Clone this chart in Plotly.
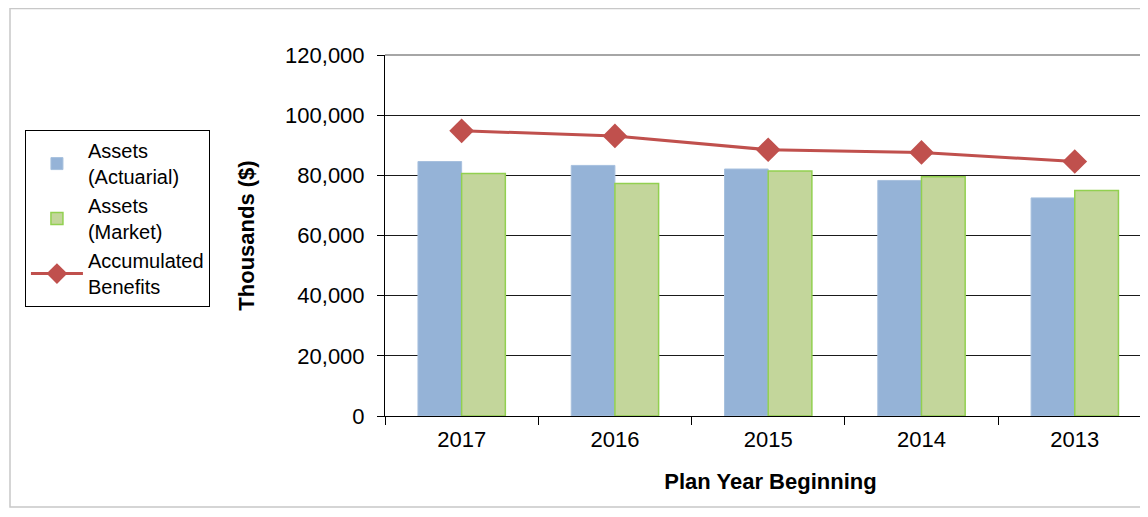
import plotly.graph_objects as go

years = ['2017', '2016', '2015', '2014', '2013']
assets_actuarial = [84600, 83300, 82100, 78300, 72500]
assets_market = [80600, 77300, 81400, 79500, 75000]
accumulated_benefits = [94800, 93100, 88500, 87600, 84600]

FONT = 'Liberation Sans, Arial, sans-serif'

fig = go.Figure()
fig.add_trace(go.Bar(x=years, y=assets_actuarial, name='Assets<br>(Actuarial)',
                     marker=dict(color='#95B3D7', line=dict(color='#A7C0DE', width=1))))
fig.add_trace(go.Bar(x=years, y=assets_market, name='Assets<br>(Market)',
                     marker=dict(color='#C3D69B', line=dict(color='#92D050', width=1.5))))
fig.add_trace(go.Scatter(x=years, y=accumulated_benefits, name='Accumulated<br>Benefits',
                         mode='lines+markers',
                         line=dict(color='#C0504D', width=3),
                         marker=dict(symbol='diamond', size=19, color='#C0504D')))

# the page body adds an 8px offset, margins are set to compensate
fig.update_layout(
    width=1148, height=517,
    margin=dict(l=377, r=0, t=47, b=109),
    paper_bgcolor='white', plot_bgcolor='white',
    font=dict(family=FONT, size=20, color='#000'),
    barmode='group', bargap=0.43, bargroupgap=0,
    showlegend=True,
    legend=dict(x=-0.467, y=0.792, xanchor='left', yanchor='top',
                bordercolor='#000', borderwidth=1, bgcolor='white',
                font=dict(family=FONT, size=20), itemwidth=52),
)

fig.update_xaxes(
    range=[-0.5, 4.53],
    showline=True, linecolor='#000', linewidth=1,
    ticks='outside', ticklen=8, tickcolor='#000', tickson='boundaries',
    ticklabelstandoff=4,
    showgrid=False,
    tickfont=dict(family=FONT, size=22),
    title=dict(text='<b>Plan Year Beginning</b>', font=dict(family=FONT, size=22), standoff=22),
)
fig.update_yaxes(
    range=[0, 120000], dtick=20000, tickformat=',d',
    showline=True, linecolor='#000', linewidth=1,
    ticks='outside', ticklen=7, tickcolor='#000',
    ticklabelstandoff=8,
    showgrid=True, gridcolor='#1a1a1a', gridwidth=1.3,
    tickfont=dict(family=FONT, size=22),
    title=dict(text='<b>Thousands ($)</b>', font=dict(family=FONT, size=22), standoff=24),
)

# gray top edge of the plot area
fig.add_shape(type='line', xref='paper', yref='paper', x0=0, x1=1, y0=1, y1=1,
              line=dict(color='#A6A6A6', width=2))

# outer chart border
fig.add_shape(type='rect', xref='paper', yref='paper',
              x0=(2 - 377) / 771, x1=1.05, y0=(408 - 499) / 361, y1=(408 - 0.5) / 361,
              line=dict(color='#C8C8C8', width=1.5), fillcolor='rgba(0,0,0,0)', layer='below')

fig.write_html('out.html')
